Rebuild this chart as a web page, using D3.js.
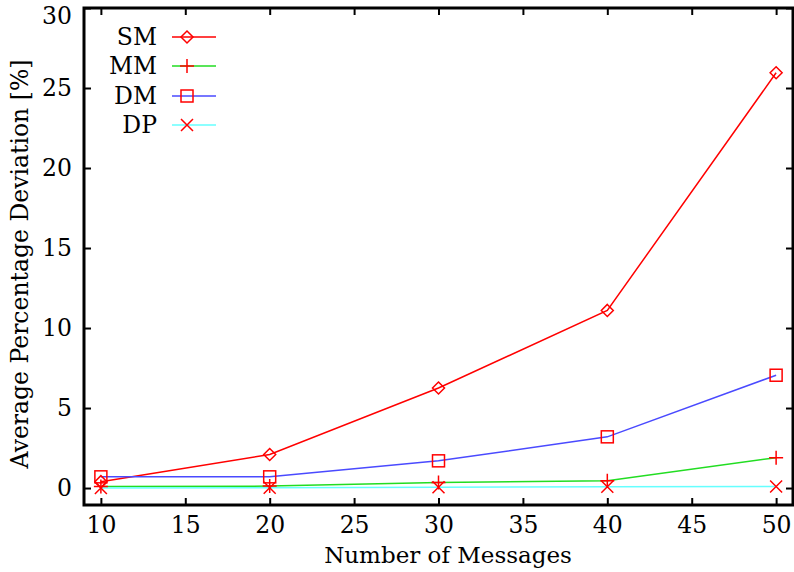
<!DOCTYPE html>
<html>
<head>
<meta charset="utf-8">
<script src="https://cdn.jsdelivr.net/npm/d3@7"></script>
<style>
  html, body { margin: 0; padding: 0; background: #fff; }
  svg text { font-family: "DejaVu Serif", serif; fill: #000; }
</style>
</head>
<body>
<svg id="chart" width="794" height="572"></svg>
<script>
// Number of messages on the x axis
const messages = [10, 20, 30, 40, 50];

// Average percentage deviation per method
const seriesNames = ["SM", "MM", "DM", "DP"];
const smValues = [0.4, 2.1, 6.25, 11.1, 25.95];
const mmValues = [0.1, 0.12, 0.35, 0.45, 1.9];
const dmValues = [0.7, 0.7, 1.7, 3.2, 7.05];
const dpValues = [0.0, 0.02, 0.05, 0.08, 0.1];

const xTicks = [10, 15, 20, 25, 30, 35, 40, 45, 50];
const yTicks = [0, 5, 10, 15, 20, 25, 30];

const lineColors = ["#ff0000", "#22dd22", "#4a4aff", "#66ffff"];
const markerColor = "#ff0000";
const markerTypes = ["diamond", "plus", "square", "cross"];

const series = seriesNames.map((name, i) => ({
  name,
  values: [smValues, mmValues, dmValues, dpValues][i],
  color: lineColors[i],
  marker: markerTypes[i]
}));

const svg = d3.select("#chart");
const plot = { left: 84, right: 793, top: 8, bottom: 505 };
const fontSize = "23.5px";

const x = d3.scaleLinear().domain([9, 51]).range([plot.left, plot.right]);
const y = d3.scaleLinear().domain([-1.06, 30]).range([plot.bottom, plot.top]);

// Tick marks pointing inward on all four sides
const tickLen = 7;
const g = svg.append("g");

const bottomAxis = d3.axisBottom(x).tickValues(xTicks).tickSize(-tickLen).tickPadding(11);
const topAxis = d3.axisTop(x).tickValues(xTicks).tickSize(-tickLen).tickFormat("");
const leftAxis = d3.axisLeft(y).tickValues(yTicks).tickSize(-tickLen).tickPadding(12);
const rightAxis = d3.axisRight(y).tickValues(yTicks).tickSize(-tickLen).tickFormat("");

function styleAxis(sel) {
  sel.select(".domain").remove();
  sel.selectAll(".tick line").attr("stroke", "#000").attr("stroke-width", 2);
  sel.selectAll(".tick text").style("font-size", fontSize).style("font-family", "'DejaVu Serif', serif");
}

g.append("g").attr("transform", `translate(0,${plot.bottom})`).call(bottomAxis).call(styleAxis);
g.append("g").attr("transform", `translate(0,${plot.top})`).call(topAxis).call(styleAxis);
const leftG = g.append("g").attr("transform", `translate(${plot.left},0)`).call(leftAxis).call(styleAxis);
g.append("g").attr("transform", `translate(${plot.right},0)`).call(rightAxis).call(styleAxis);

// Keep the top label inside the canvas
leftG.selectAll(".tick").filter(d => d === 30).select("text").attr("dy", "0.68em");

// Plot frame
svg.append("rect")
  .attr("x", plot.left).attr("y", plot.top)
  .attr("width", plot.right - plot.left).attr("height", plot.bottom - plot.top)
  .attr("fill", "none").attr("stroke", "#000").attr("stroke-width", 3);

// Marker drawing helper
function drawMarker(sel, type, cx, cy) {
  const s = 6;
  if (type === "diamond") {
    sel.append("path").attr("d", `M${cx},${cy - s}L${cx + s},${cy}L${cx},${cy + s}L${cx - s},${cy}Z`)
      .attr("fill", "none").attr("stroke", markerColor).attr("stroke-width", 1.5);
  } else if (type === "plus") {
    sel.append("path").attr("d", `M${cx - 7},${cy}H${cx + 7}M${cx},${cy - 7}V${cy + 7}`)
      .attr("fill", "none").attr("stroke", markerColor).attr("stroke-width", 1.5);
  } else if (type === "square") {
    sel.append("rect").attr("x", cx - s).attr("y", cy - s).attr("width", 2 * s).attr("height", 2 * s)
      .attr("fill", "none").attr("stroke", markerColor).attr("stroke-width", 1.5);
  } else if (type === "cross") {
    sel.append("path").attr("d", `M${cx - 6},${cy - 6}L${cx + 6},${cy + 6}M${cx - 6},${cy + 6}L${cx + 6},${cy - 6}`)
      .attr("fill", "none").attr("stroke", markerColor).attr("stroke-width", 1.5);
  }
}

const line = d3.line().x((d, i) => x(messages[i])).y(d => y(d));

// Series lines and markers
series.forEach(s => {
  svg.append("path").datum(s.values)
    .attr("d", line)
    .attr("fill", "none").attr("stroke", s.color).attr("stroke-width", 1.5);
});
series.forEach(s => {
  const mg = svg.append("g");
  s.values.forEach((v, i) => drawMarker(mg, s.marker, x(messages[i]), y(v)));
});

// Legend
const legend = svg.append("g");
const legendRowY = [37, 66, 96, 125];
series.forEach((s, i) => {
  const ly = legendRowY[i];
  legend.append("text").attr("x", 157).attr("y", ly).attr("dy", "0.35em")
    .attr("text-anchor", "end").style("font-size", fontSize).text(s.name);
  legend.append("line").attr("x1", 172).attr("x2", 216).attr("y1", ly).attr("y2", ly)
    .attr("stroke", s.color).attr("stroke-width", 1.5);
  drawMarker(legend, s.marker, 187, ly);
});

// Axis titles
svg.append("text").attr("x", 448).attr("y", 563).attr("text-anchor", "middle")
  .style("font-size", "23px").text("Number of Messages");
svg.append("text").attr("transform", "translate(20,264) rotate(-90)").attr("dy", "0.35em")
  .attr("text-anchor", "middle").style("font-size", fontSize).text("Average Percentage Deviation [%]");
</script>
</body>
</html>
